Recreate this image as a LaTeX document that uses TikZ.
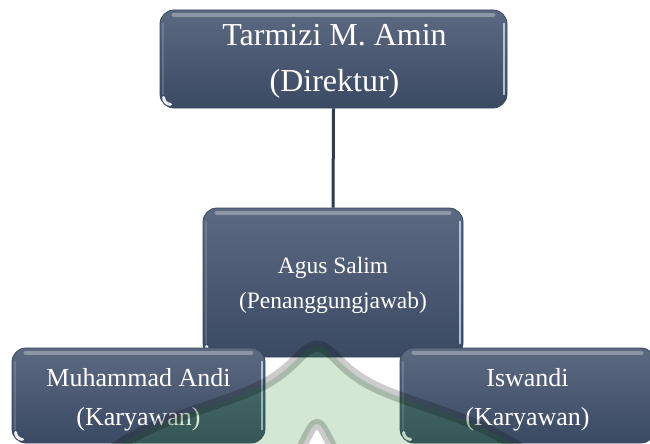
\documentclass[tikz,border=0pt]{standalone}
\usepackage{fontspec}
\setmainfont{Liberation Serif}
\definecolor{boxtop}{HTML}{5B6A81}
\definecolor{boxbot}{HTML}{3B4A63}
\definecolor{boxedge}{HTML}{3A475C}
\definecolor{linkc}{HTML}{2E3A4D}
\definecolor{glow}{HTML}{C9DDF2}
\definecolor{wmgreen}{HTML}{1E8C28}
\tikzset{
 orgbox/.style={rectangle, rounded corners=14pt, top color=boxtop, bottom color=boxbot, draw=boxedge, line width=0.8pt, inner sep=0pt},
 boxtext/.style={text=white, align=center, inner sep=0pt},
 link/.style={draw=linkc, line width=3pt},
 tophl/.style={white, opacity=0.3, line width=4pt, line cap=round},
 sidehl/.style={glow, opacity=0.8, line width=1.6pt, line cap=round},
 lefthl/.style={white, opacity=0.15, line width=1.5pt, line cap=round},
 glint/.style={white, opacity=0.9, line width=3pt, line cap=round},
 wmline/.style={black, opacity=0.2, line width=11pt},
 wmfill/.style={wmgreen, opacity=0.2}
}
\newcommand\boxgloss[1]{%
 \draw[tophl] ([xshift=14pt,yshift=-5pt]#1.north west) -- ([xshift=-14pt,yshift=-5pt]#1.north east);
 \draw[sidehl] ([xshift=-3.5pt,yshift=-14pt]#1.north east) -- ([xshift=-3.5pt,yshift=14pt]#1.south east);
 \draw[lefthl] ([xshift=3.5pt,yshift=-14pt]#1.north west) -- ([xshift=3.5pt,yshift=14pt]#1.south west);
 \draw[glint] ([xshift=4pt,yshift=11pt]#1.south west) to[out=-90,in=180] ([xshift=11pt,yshift=4pt]#1.south west);
}
\begin{document}
\begin{tikzpicture}[x=1pt,y=-1pt]
\clip (0,0) rectangle (650,444);
\fill[white] (0,0) rectangle (650,444);
% boxes
\node[orgbox, minimum width=347pt, minimum height=98pt] (dir) at (333.5,59) {};
\node[boxtext, font=\fontsize{32}{46}\selectfont] (dirtxt) at ([xshift=1pt,yshift=-2pt]dir.center) {Tarmizi M. Amin\\(Direktur)};
\node[orgbox, minimum width=260pt, minimum height=149pt] (pj) at (333,282.5) {};
\node[boxtext, font=\fontsize{23.5}{35}\selectfont] (pjtxt) at ([yshift=-2.6pt]pj.center) {Agus Salim\\(Penanggungjawab)};
\draw[link] (dir.south) -- (pj.north);
\boxgloss{dir}
\boxgloss{pj}
\node[orgbox, minimum width=253pt, minimum height=95pt] (andi) at (138.5,395.5) {};
\node[boxtext, font=\fontsize{26}{39}\selectfont] (anditxt) at ([yshift=-4pt]andi.center) {Muhammad Andi\\(Karyawan)};
\boxgloss{andi}
\node[orgbox, minimum width=255pt, minimum height=95pt] (isw) at (527.5,395.5) {};
\node[boxtext, font=\fontsize{26}{39}\selectfont] (iswtxt) at ([yshift=-4pt]isw.center) {Iswandi\\(Karyawan)};
\boxgloss{isw}
% watermark
\fill[wmfill, even odd rule]
  (112,450) .. controls (160,415) and (230,404) .. (268,382)
  .. controls (296,366) and (304,346) .. (317,346)
  .. controls (330,346) and (338,366) .. (366,382)
  .. controls (404,404) and (474,415) .. (522,450) -- cycle
  (300,450) .. controls (308,435) and (312,424) .. (317,424)
  .. controls (322,424) and (326,435) .. (334,450) -- cycle;
\draw[wmline]
  (112,450) .. controls (160,415) and (230,404) .. (268,382)
  .. controls (296,366) and (304,346) .. (317,346)
  .. controls (330,346) and (338,366) .. (366,382)
  .. controls (404,404) and (474,415) .. (522,450);
\draw[wmline, line width=10pt]
  (300,450) .. controls (308,435) and (312,424) .. (317,424)
  .. controls (322,424) and (326,435) .. (334,450);
\end{tikzpicture}
\end{document}
